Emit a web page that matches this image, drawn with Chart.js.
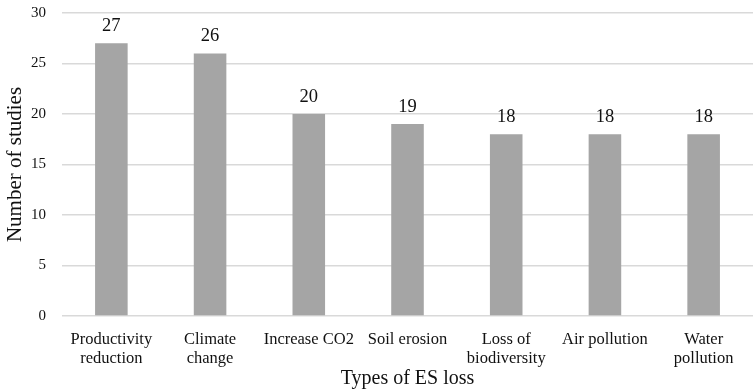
<!DOCTYPE html>
<html>
<head>
<meta charset="utf-8">
<script src="https://cdn.jsdelivr.net/npm/chart.js@4/dist/chart.umd.min.js"></script>
<style>
  html, body { margin: 0; padding: 0; background: #fff; }
  #wrap { width: 753px; height: 391px; }
</style>
</head>
<body>
<div id="wrap"><canvas id="c" width="753" height="391"></canvas></div>
<script>
// Types of ecosystem-service loss and how many studies reported each
const categories = [
  ["Productivity", "reduction"],
  ["Climate", "change"],
  "Increase CO2",
  "Soil erosion",
  ["Loss of", "biodiversity"],
  "Air pollution",
  ["Water", "pollution"]
];
const studyCounts = [27, 26, 20, 19, 18, 18, 18];
const yTicks = [0, 5, 10, 15, 20, 25, 30];

const SERIF = '"Liberation Serif", "Times New Roman", serif';

// Writes each bar's value just above it
const valueLabels = {
  id: 'valueLabels',
  afterDatasetsDraw(chart) {
    const ctx = chart.ctx;
    const meta = chart.getDatasetMeta(0);
    ctx.save();
    ctx.font = '18.5px ' + SERIF;
    ctx.fillStyle = '#111';
    ctx.textAlign = 'center';
    ctx.textBaseline = 'alphabetic';
    meta.data.forEach((bar, i) => {
      ctx.fillText(String(studyCounts[i]), bar.x, bar.y - 12);
    });
    ctx.restore();
  }
};

new Chart(document.getElementById('c'), {
  type: 'bar',
  data: {
    labels: categories,
    datasets: [{
      data: studyCounts,
      backgroundColor: '#A5A5A5',
      borderWidth: 0,
      barPercentage: 0.33,
      categoryPercentage: 1.0
    }]
  },
  options: {
    responsive: false,
    animation: false,
    devicePixelRatio: 1,
    layout: { padding: { top: 13, right: 0, left: 0, bottom: 0 } },
    plugins: {
      legend: { display: false },
      tooltip: { enabled: false }
    },
    scales: {
      x: {
        grid: { display: false },
        border: { display: false },
        ticks: {
          color: '#111',
          font: { family: SERIF, size: 16.5, lineHeight: 1.15 },
          padding: 6,
          maxRotation: 0,
          autoSkip: false
        },
        title: {
          display: true,
          text: 'Types of ES loss',
          color: '#111',
          font: { family: SERIF, size: 20 },
          padding: { top: 2, bottom: 0 }
        },
        afterFit(scale) {
          scale.height = 75;
          scale.paddingTop = 0;
        }
      },
      y: {
        min: 0,
        max: 30,
        afterBuildTicks(scale) { scale.ticks = yTicks.map(v => ({ value: v })); },
        grid: { color: '#D9D9D9', lineWidth: 1.5, drawTicks: false },
        border: { display: false },
        ticks: {
          color: '#111',
          font: { family: SERIF, size: 15 },
          padding: 16
        },
        title: {
          display: true,
          text: 'Number of studies',
          color: '#111',
          font: { family: SERIF, size: 21 },
          padding: { top: 3, bottom: 0 }
        },
        afterFit(scale) {
          scale.width = 62;
          scale.paddingTop = 0;
          scale.paddingBottom = 0;
        }
      }
    }
  },
  plugins: [valueLabels]
});
</script>
</body>
</html>
